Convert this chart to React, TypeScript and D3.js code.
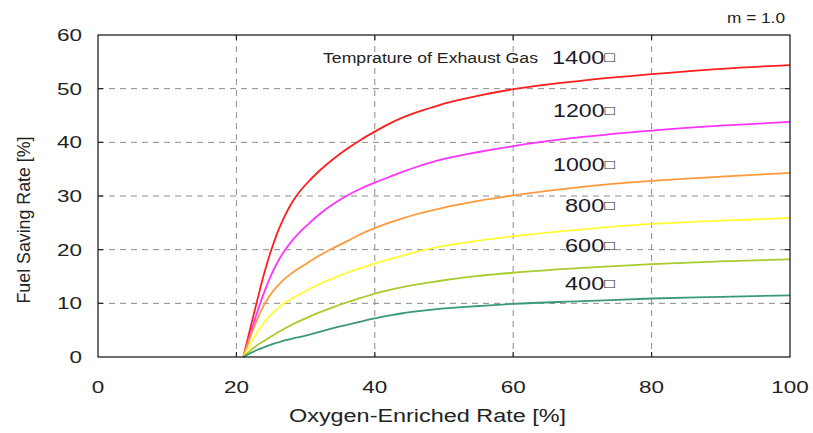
import React from "react";
import * as d3 from "d3";

// Oxygen-enriched rate [%] vs fuel saving rate [%], one series per exhaust gas temperature
const xs1400 = [21, 22, 23, 24, 25, 26, 27, 28, 29, 30, 32, 34, 36, 38, 40, 42, 44, 46, 48, 50, 55, 60, 70, 80, 90, 100];
const ys1400 = [0, 5.3, 10.5, 15.5, 19.8, 23.4, 26.3, 28.7, 30.6, 32.1, 34.7, 36.9, 38.8, 40.5, 42.0, 43.4, 44.6, 45.6, 46.4, 47.2, 48.7, 49.9, 51.5, 52.7, 53.7, 54.4];

const xs1200 = [21, 22, 23, 24, 25, 26, 27, 28, 30, 32, 34, 36, 38, 40, 42, 44, 46, 48, 50, 55, 60, 70, 80, 90, 100];
const ys1200 = [0, 4.2, 8.3, 12.0, 15.2, 17.8, 19.9, 21.6, 24.3, 26.6, 28.5, 30.1, 31.4, 32.5, 33.5, 34.5, 35.4, 36.2, 36.9, 38.2, 39.3, 41.0, 42.2, 43.1, 43.8];

const xs1000 = [21, 22, 23, 24, 25, 26, 27, 28, 30, 32, 34, 36, 38, 40, 42, 44, 46, 48, 50, 55, 60, 70, 80, 90, 100];
const ys1000 = [0, 3.7, 7.0, 9.7, 11.8, 13.3, 14.6, 15.6, 17.3, 18.9, 20.3, 21.6, 22.9, 24.0, 25.0, 25.85, 26.6, 27.25, 27.85, 29.1, 30.1, 31.7, 32.8, 33.6, 34.3];

const xs800 = [21, 22, 23, 24, 25, 26, 27, 28, 30, 32, 34, 36, 38, 40, 42, 44, 46, 48, 50, 55, 60, 70, 80, 90, 100];
const ys800 = [0, 2.4, 4.6, 6.4, 7.9, 9.1, 10.1, 10.9, 12.3, 13.6, 14.7, 15.7, 16.6, 17.4, 18.2, 18.9, 19.6, 20.2, 20.7, 21.7, 22.5, 23.8, 24.8, 25.4, 25.9];

const xs600 = [21, 22, 23, 24, 25, 26, 27, 28, 30, 32, 34, 36, 38, 40, 44, 48, 50, 55, 60, 70, 80, 90, 100];
const ys600 = [0, 1.2, 2.2, 3.0, 3.8, 4.6, 5.3, 6.0, 7.2, 8.3, 9.3, 10.2, 11.0, 11.8, 13.0, 13.9, 14.3, 15.1, 15.7, 16.6, 17.3, 17.8, 18.2];

const xs400 = [21, 22, 23, 24, 25, 26, 27, 28, 30, 32, 34, 36, 38, 40, 42, 44, 46, 48, 50, 55, 60, 70, 80, 90, 100];
const ys400 = [0, 0.7, 1.3, 1.8, 2.3, 2.7, 3.1, 3.4, 4.0, 4.7, 5.4, 6.0, 6.6, 7.2, 7.7, 8.15, 8.5, 8.8, 9.05, 9.5, 9.9, 10.4, 10.9, 11.2, 11.5];

const seriesNames = ["1400", "1200", "1000", "800", "600", "400"];
const seriesX = [xs1400, xs1200, xs1000, xs800, xs600, xs400];
const seriesY = [ys1400, ys1200, ys1000, ys800, ys600, ys400];
const seriesColors = ["#ff1f1f", "#ff33ff", "#ff9a3c", "#ffff33", "#a8cc2c", "#3a9a76"];

const xTicks = [0, 20, 40, 60, 80, 100];
const yTicks = [0, 10, 20, 30, 40, 50, 60];
const gridX = [20, 40, 60, 80];
const gridY = [10, 20, 30, 40, 50];

const unit = "\u25A1";

// series label placement: left edge, baseline, full label width
const labelPos = [
  { x: 552, y: 63.5, w: 63, fs: 19 },
  { x: 553, y: 116.7, w: 62, fs: 18 },
  { x: 553, y: 170.7, w: 62, fs: 18 },
  { x: 565, y: 212.3, w: 50, fs: 18 },
  { x: 565, y: 251.7, w: 50, fs: 18 },
  { x: 565, y: 290, w: 50, fs: 18 },
];

const W = 813;
const H = 433;
const left = 98;
const right = 790;
const top = 35;
const bottom = 357;

const font = "'Liberation Sans', Arial, Helvetica, sans-serif";

export default function App() {
  const x = d3.scaleLinear().domain([0, 100]).range([left, right]);
  const y = d3.scaleLinear().domain([0, 60]).range([bottom, top]);

  const line = d3
    .line<[number, number]>()
    .x((d) => x(d[0]))
    .y((d) => y(d[1]))
    .curve(d3.curveMonotoneX);

  const tickLen = 5;

  return (
    <svg
      width={W}
      height={H}
      style={{ position: "absolute", left: 0, top: 0, background: "#fff" }}
      fontFamily={font}
    >
      <rect x={0} y={0} width={W} height={H} fill="#fff" />

      {/* grid */}
      {gridX.map((v) => (
        <line key={"gx" + v} x1={x(v)} x2={x(v)} y1={top} y2={bottom} stroke="#8a8a8a" strokeWidth={1} strokeDasharray="6,5" />
      ))}
      {gridY.map((v) => (
        <line key={"gy" + v} x1={left} x2={right} y1={y(v)} y2={y(v)} stroke="#8a8a8a" strokeWidth={1} strokeDasharray="6,5" />
      ))}

      {/* inner ticks on all four sides */}
      {gridX.map((v) => (
        <g key={"tx" + v} stroke="#222" strokeWidth={1.2}>
          <line x1={x(v)} x2={x(v)} y1={bottom} y2={bottom - tickLen} />
          <line x1={x(v)} x2={x(v)} y1={top} y2={top + tickLen} />
        </g>
      ))}
      {gridY.map((v) => (
        <g key={"ty" + v} stroke="#222" strokeWidth={1.2}>
          <line x1={left} x2={left + tickLen} y1={y(v)} y2={y(v)} />
          <line x1={right} x2={right - tickLen} y1={y(v)} y2={y(v)} />
        </g>
      ))}

      {/* curves */}
      {seriesNames.map((name, i) => {
        const pts = seriesX[i].map((v, j) => [v, seriesY[i][j]] as [number, number]);
        return (
          <path key={name} d={line(pts) ?? ""} fill="none" stroke={seriesColors[i]} strokeWidth={1.8} strokeLinejoin="round" />
        );
      })}

      {/* frame */}
      <rect x={left} y={top} width={right - left} height={bottom - top} fill="none" stroke="#222" strokeWidth={1.3} />

      {/* axis tick labels */}
      {xTicks.map((v) => {
        const s = String(v);
        return (
          <text key={"xl" + v} x={x(v)} y={393} fontSize={17} fill="#222" textAnchor="middle" textLength={s.length * 12.5} lengthAdjust="spacingAndGlyphs">
            {s}
          </text>
        );
      })}
      {yTicks.map((v) => {
        const s = String(v);
        return (
          <text key={"yl" + v} x={82} y={y(v) + 6} fontSize={16.5} fill="#222" textAnchor="end" textLength={s.length * 12.5} lengthAdjust="spacingAndGlyphs">
            {s}
          </text>
        );
      })}

      {/* axis titles */}
      <text x={289} y={421.5} fontSize={18} fill="#222" textLength={277} lengthAdjust="spacingAndGlyphs">
        Oxygen-Enriched Rate [%]
      </text>
      <text
        transform="translate(30,220) rotate(-90)"
        fontSize={18.5}
        fill="#222"
        textAnchor="middle"
        textLength={167}
        lengthAdjust="spacingAndGlyphs"
      >
        Fuel Saving Rate [%]
      </text>

      <text x={727} y={22.5} fontSize={14} fill="#222" textLength={58} lengthAdjust="spacingAndGlyphs">
        m = 1.0
      </text>

      <text x={323} y={63.3} fontSize={14} fill="#222" textLength={215} lengthAdjust="spacingAndGlyphs">
        Temprature of Exhaust Gas
      </text>

      {/* series labels */}
      {seriesNames.map((name, i) => {
        const p = labelPos[i];
        return (
          <text key={"lab" + name} x={p.x} y={p.y} fontSize={p.fs} fill="#1a1a2a" textLength={p.w} lengthAdjust="spacingAndGlyphs">
            {name}
            <tspan fontSize={p.fs * 0.75} dy={-2}>{unit}</tspan>
          </text>
        );
      })}
    </svg>
  );
}
